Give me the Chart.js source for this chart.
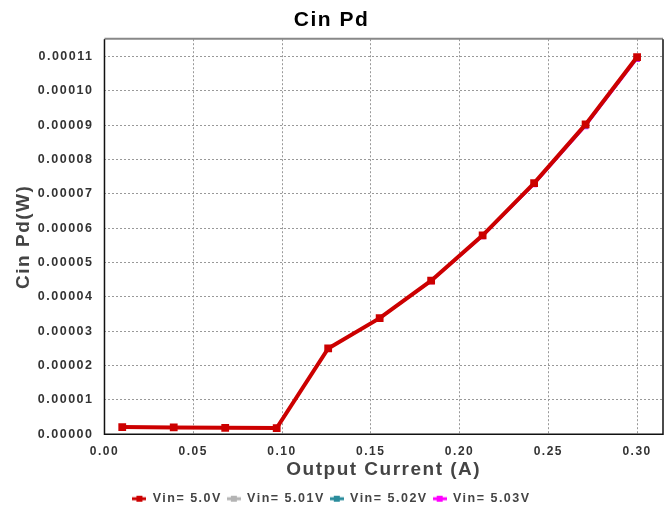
<!DOCTYPE html>
<html>
<head>
<meta charset="utf-8">
<script src="https://cdn.jsdelivr.net/npm/chart.js@4.4.1/dist/chart.umd.min.js"></script>
<style>
  html, body { margin: 0; padding: 0; background: #ffffff; }
  #wrap { width: 672px; height: 515px; position: relative; }
</style>
</head>
<body>
<div id="wrap"><canvas id="chart" width="672" height="515"></canvas></div>
<script>
// Output current sweep (A)
const outputCurrent = [0.01, 0.039, 0.068, 0.097, 0.126, 0.155, 0.184, 0.213, 0.242, 0.271, 0.30];

// Input capacitor power dissipation (W) per input voltage
const pdVin500 = [2.1e-6, 2.0e-6, 1.9e-6, 1.8e-6, 2.50e-5, 3.38e-5, 4.47e-5, 5.79e-5, 7.31e-5, 9.02e-5, 1.098e-4];
const pdVin501 = [2.1e-6, 2.0e-6, 1.9e-6, 1.8e-6, 2.50e-5, 3.38e-5, 4.47e-5, 5.78e-5, 7.30e-5, 9.00e-5, 1.096e-4];
const pdVin502 = [2.1e-6, 2.0e-6, 1.9e-6, 1.8e-6, 2.49e-5, 3.37e-5, 4.46e-5, 5.77e-5, 7.28e-5, 8.98e-5, 1.094e-4];
const pdVin503 = [2.1e-6, 2.0e-6, 1.9e-6, 1.8e-6, 2.49e-5, 3.37e-5, 4.45e-5, 5.76e-5, 7.27e-5, 8.96e-5, 1.092e-4];

const seriesNames = ['Vin= 5.0V', 'Vin= 5.01V', 'Vin= 5.02V', 'Vin= 5.03V'];
const seriesColors = ['#cc0000', '#b4b4b4', '#2a8c9c', '#ff00ff'];
const seriesValues = [pdVin500, pdVin501, pdVin502, pdVin503];

// axis tick positions
const xTickValues = [0, 0.05, 0.10, 0.15, 0.20, 0.25, 0.30];
const yTickValues = [0, 0.00001, 0.00002, 0.00003, 0.00004, 0.00005, 0.00006,
                     0.00007, 0.00008, 0.00009, 0.00010, 0.00011];

const FONT = "'Liberation Sans', Arial, sans-serif";

// legend swatch: short thick line with a square marker in the middle
function legendSwatch(color) {
  const c = document.createElement('canvas');
  c.width = 14; c.height = 8;
  const g = c.getContext('2d');
  g.fillStyle = color;
  g.fillRect(0, 2.5, 14, 3);
  g.fillRect(4, 1, 6, 6);
  return c;
}

const datasets = seriesNames.map((name, i) => ({
  label: name,
  data: outputCurrent.map((x, k) => ({ x: x, y: seriesValues[i][k] })),
  borderColor: seriesColors[i],
  backgroundColor: seriesColors[i],
  borderWidth: i === 0 ? 4 : 2,
  pointStyle: 'rect',
  pointRadius: i === 0 ? 5.5 : 4,
  pointBorderWidth: 0,
  tension: 0,
  order: i
}));

// wide letter spacing for all chart text
const spacing = {
  id: 'spacing',
  beforeUpdate(chart) { chart.ctx.letterSpacing = '1.5px'; },
  beforeDraw(chart) { chart.ctx.letterSpacing = '1.5px'; }
};

// frame around the plot area: grey top edge, dark on the other sides
const frame = {
  id: 'frame',
  afterDatasetsDraw(chart) {
    const a = chart.chartArea, g = chart.ctx;
    g.save();
    g.strokeStyle = '#888888';
    g.lineWidth = 2;
    g.beginPath(); g.moveTo(a.left, a.top - 0.5); g.lineTo(a.right, a.top - 0.5); g.stroke();
    g.strokeStyle = '#111111';
    g.lineWidth = 1.5;
    g.beginPath();
    g.moveTo(a.left, a.top); g.lineTo(a.left, a.bottom); g.lineTo(a.right, a.bottom); g.lineTo(a.right, a.top);
    g.stroke();
    g.restore();
  }
};

new Chart(document.getElementById('chart'), {
  type: 'line',
  data: { datasets },
  plugins: [spacing, frame],
  options: {
    responsive: false,
    animation: false,
    layout: { padding: { left: 0, right: 9, top: 0, bottom: 0 } },
    plugins: {
      title: {
        display: true,
        text: 'Cin Pd',
        color: '#000000',
        font: { family: FONT, size: 21, weight: 'bold' },
        padding: { top: 8, bottom: 6 }
      },
      legend: {
        position: 'bottom',
        labels: {
          color: '#444444',
          font: { family: FONT, size: 12.5, weight: 'bold' },
          usePointStyle: true,
          pointStyleWidth: 14,
          boxHeight: 8,
          padding: 5,
          generateLabels(chart) {
            return chart.data.datasets.map((d, i) => ({
              text: d.label,
              fontColor: '#444444',
              pointStyle: legendSwatch(seriesColors[i]),
              datasetIndex: i,
              hidden: false,
              lineWidth: 0,
              strokeStyle: 'transparent',
              fillStyle: seriesColors[i]
            }));
          }
        }
      },
      tooltip: { enabled: false }
    },
    scales: {
      x: {
        type: 'linear',
        min: 0,
        max: 0.3146,
        afterBuildTicks(scale) { scale.ticks = xTickValues.map(v => ({ value: v })); },
        ticks: {
          color: '#333333',
          font: { family: FONT, size: 12, weight: 'bold' },
          callback: v => v.toFixed(2),
          maxRotation: 0,
          autoSkip: false,
          padding: 10
        },
        grid: { color: '#999999', lineWidth: 1, drawTicks: false },
        border: { display: false, dash: [2, 2] },
        title: {
          display: true,
          text: 'Output Current (A)',
          color: '#444444',
          font: { family: FONT, size: 19, weight: 'bold' },
          padding: { top: -10, bottom: 6 }
        }
      },
      y: {
        type: 'linear',
        min: 0,
        max: 0.000115,
        afterBuildTicks(scale) { scale.ticks = yTickValues.map(v => ({ value: v })); },
        ticks: {
          color: '#333333',
          font: { family: FONT, size: 12.5, weight: 'bold' },
          callback: v => v.toFixed(5),
          autoSkip: false,
          padding: 11
        },
        grid: { color: '#999999', lineWidth: 1, drawTicks: false },
        border: { display: false, dash: [2, 2] },
        title: {
          display: true,
          text: 'Cin Pd(W)',
          color: '#444444',
          font: { family: FONT, size: 19, weight: 'bold' },
          padding: { top: 12, bottom: -8 }
        }
      }
    }
  }
});
</script>
</body>
</html>
